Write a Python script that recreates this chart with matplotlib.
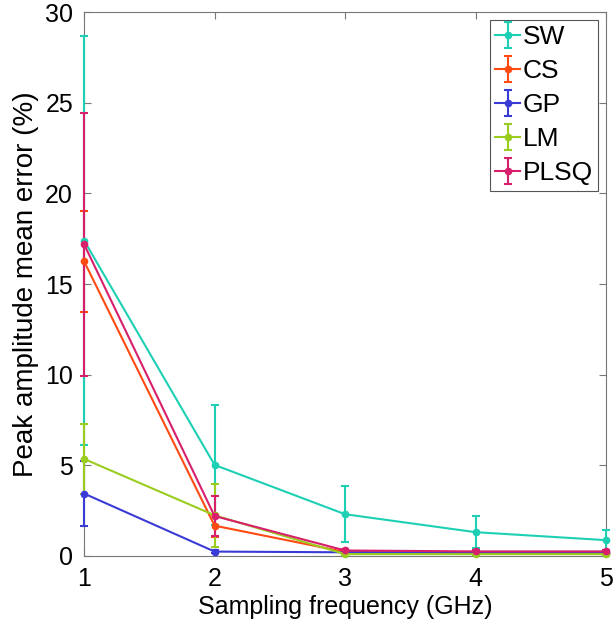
import numpy as np
import matplotlib
matplotlib.use('Agg')
import matplotlib.pyplot as plt

plt.rcParams['font.family'] = ['Liberation Sans', 'DejaVu Sans']

freq = [1, 2, 3, 4, 5]  # GHz

sw = [17.4, 5.02, 2.3, 1.31, 0.87]
sw_err = [11.3, 3.3, 1.54, 0.88, 0.58]
cs = [16.25, 1.67, 0.22, 0.18, 0.18]
cs_err = [2.8, 0.6, 0.05, 0.05, 0.05]
gp = [3.44, 0.24, 0.2, 0.18, 0.18]
gp_err = [1.79, 0.1, 0.05, 0.05, 0.05]
lm = [5.35, 2.24, 0.1, 0.1, 0.1]
lm_err = [1.93, 1.73, 0.05, 0.05, 0.05]
plsq = [17.19, 2.2, 0.3, 0.25, 0.25]
plsq_err = [7.26, 1.1, 0.08, 0.05, 0.05]

series = [
    ('SW', sw, sw_err, '#1dd0b4'),
    ('CS', cs, cs_err, '#ff4a12'),
    ('GP', gp, gp_err, '#3a3ad6'),
    ('LM', lm, lm_err, '#9acd1e'),
    ('PLSQ', plsq, plsq_err, '#d81f6c'),
]

fig = plt.figure(figsize=(6.14, 6.39), dpi=100)
ax = fig.add_axes([0.137, 0.130, 0.850, 0.851])

for name, vals, errs, col in series:
    lines = ax.errorbar(freq, vals, yerr=errs, color=col, marker='o', markersize=4.5,
                        linewidth=1.5, elinewidth=1.5, capsize=3, capthick=1.5,
                        label=name, zorder=3)
    for art in lines.get_children():
        art.set_clip_on(False)

ax.set_xlim(1, 5)
ax.set_ylim(0, 30)
ax.set_xticks([1, 2, 3, 4, 5])
ax.set_yticks([0, 5, 10, 15, 20, 25, 30])
ax.tick_params(direction='in', top=True, right=True, labelsize=18,
               color='#777777', length=5, pad=8)
for sp in ax.spines.values():
    sp.set_color('#777777')
ax.set_xlabel('Sampling frequency (GHz)', fontsize=18, labelpad=3)
ax.set_ylabel('Peak amplitude mean error (%)', fontsize=20, labelpad=4)

leg = ax.legend(loc='upper right', fontsize=19, fancybox=False,
                edgecolor='#555555', handlelength=0.95, handletextpad=0.1,
                borderpad=0.2, labelspacing=0.38, borderaxespad=0.3,
                framealpha=1)
leg.get_frame().set_linewidth(0.8)

fig.savefig('out.png', dpi=100)
